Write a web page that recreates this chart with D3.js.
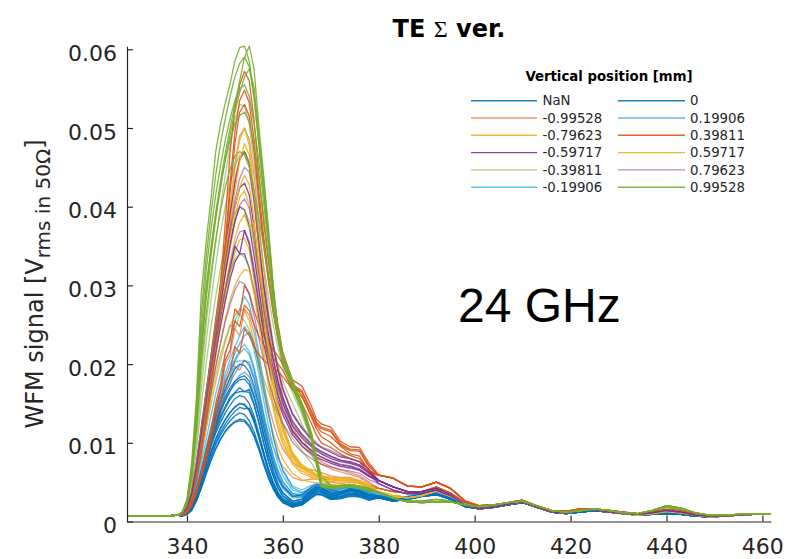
<!DOCTYPE html>
<html>
<head>
<meta charset="utf-8">
<script src="https://cdn.jsdelivr.net/npm/d3@7"></script>
<style>
  body { margin: 0; background: #fff; }
  svg { display: block; }
</style>
</head>
<body>
<svg id="chart" width="791" height="559"></svg>
<script>
// ---- data (signal in units of 1e-4 V) ----
const positions = ["NaN", "-0.99528", "-0.79623", "-0.59717", "-0.39811", "-0.19906",
                   "0", "0.19906", "0.39811", "0.59717", "0.79623", "0.99528"];

const xTicks = [340, 360, 380, 400, 420, 440, 460];
const yTicks = [0, 0.01, 0.02, 0.03, 0.04, 0.05, 0.06];

// flat pre-trigger baseline shared by every trace
const leadX = [327.5, 336, 338];
const leadValues = [7, 7, 8];

// main pulse region
const headX = [339, 340, 341, 342, 343, 344, 345, 346, 347, 348, 349, 350, 351, 352, 353, 354,
               355, 356, 357, 358, 359, 360, 362, 364, 366, 367, 368, 370, 372, 374, 376, 378];

// ringing region after the pulse
const tailX = [380, 383, 386, 389, 392, 395, 398, 401, 404, 407, 410, 413, 416, 419, 422, 425,
               428, 431, 434, 437, 440, 443, 446, 449, 452, 455, 458, 461.8];

const headNaN = [
  [7,10,17,32,50,70,89,105,119,130,139,146,150,149,142,128,108,86,65,48,36,28,21,23,34,38,38,31,32,36,35,30],
  [8,11,19,36,56,78,99,118,134,146,158,164,170,165,168,150,126,100,77,58,43,33,24,26,38,42,41,34,35,40,38,32],
  [7,9,14,26,42,60,77,92,104,114,121,126,128,127,120,108,91,72,55,41,31,24,19,21,30,34,34,28,29,32,31,27],
  [7,10,16,30,48,67,85,100,113,124,133,140,145,143,144,130,110,88,67,50,37,29,22,24,35,39,38,31,32,36,34,29],
  [8,11,21,39,60,83,105,125,143,158,170,178,183,185,178,160,136,109,84,63,47,36,26,28,40,44,43,36,36,41,39,33]
];
const headM0995 = [
  [9,14,27,52,85,125,170,218,270,330,395,455,490,500,485,440,380,320,268,225,190,160,120,100,88,82,76,70,66,62,58,50],
  [8,12,21,38,60,84,110,140,165,200,212,245,236,270,262,240,208,175,148,125,106,92,75,68,66,64,62,58,56,56,52,46],
  [8,11,19,35,54,75,97,120,140,165,175,198,192,205,200,184,160,135,112,94,80,70,56,52,54,54,53,50,48,50,48,42],
  [9,14,26,50,82,120,163,210,260,318,380,435,462,470,456,414,358,300,250,210,178,150,113,95,84,78,73,67,63,60,56,48]
];
const headM0796 = [
  [10,18,38,74,118,164,210,258,305,352,400,448,485,500,478,420,350,285,230,185,150,122,88,72,64,60,58,56,55,54,52,46],
  [9,16,33,64,102,140,178,214,250,284,315,342,358,360,345,308,262,218,180,148,122,102,76,64,58,56,55,53,52,52,50,44],
  [9,14,28,54,85,117,148,177,204,228,248,262,270,268,255,228,196,164,136,112,93,79,61,53,50,49,48,47,46,47,45,40],
  [10,17,35,68,110,152,194,236,278,318,354,388,412,420,402,356,298,244,198,160,130,107,80,67,60,57,55,53,52,52,50,44]
];
const headM0597 = [
  [10,18,38,75,120,165,210,255,300,345,390,430,460,470,455,410,350,300,258,222,192,168,136,118,104,98,94,88,82,80,76,66],
  [10,17,36,70,112,155,197,238,278,316,352,382,400,396,375,338,295,255,222,194,170,150,122,106,95,90,86,80,76,74,70,61],
  [9,16,33,64,102,140,178,214,248,280,308,330,340,340,322,292,258,226,198,174,153,136,110,96,86,82,79,74,70,68,65,57],
  [10,18,37,72,116,160,204,246,288,328,366,400,424,430,415,375,322,276,238,206,178,157,128,111,98,93,89,83,78,76,72,63],
  [10,17,34,66,106,146,186,224,260,294,322,350,340,370,352,316,276,240,208,182,160,141,115,100,90,85,82,76,72,70,66,58]
];
const headM0398 = [
  [11,24,58,115,185,250,305,355,400,440,478,510,530,528,505,455,400,350,305,265,232,205,170,140,105,82,60,46,44,45,43,40],
  [10,18,40,78,122,165,205,240,270,296,318,334,340,336,322,296,265,236,210,188,168,152,128,108,86,72,56,45,43,44,42,39],
  [9,15,31,58,92,126,158,186,212,232,250,244,262,255,244,224,202,182,164,149,136,125,106,90,74,64,52,44,42,43,41,38],
  [11,22,52,104,168,228,280,326,366,400,430,452,466,470,455,416,370,326,286,250,220,196,164,136,102,80,58,46,44,45,43,40],
  [10,20,46,92,148,200,246,286,322,352,376,392,400,396,382,352,318,284,252,224,198,178,150,124,96,76,57,45,43,44,42,39]
];
const headM0199 = [
  [8,12,24,44,68,94,120,145,168,188,206,222,236,248,240,218,188,154,122,95,74,58,40,36,42,45,44,40,40,44,42,36],
  [8,13,26,48,75,104,134,162,188,212,234,254,270,286,276,250,214,176,140,108,84,66,45,40,46,48,47,42,42,46,44,38],
  [8,11,21,39,61,85,108,130,150,168,184,203,204,204,203,184,158,128,100,77,59,46,33,32,40,43,42,37,37,41,39,34],
  [8,12,22,42,65,90,115,138,158,176,192,206,218,225,216,196,168,137,108,84,65,51,36,34,41,44,43,39,39,43,41,35]
];
const headZero = [
  [8,12,22,40,62,86,110,132,152,168,182,194,200,198,190,172,148,120,94,72,55,44,32,34,44,47,46,40,38,40,38,34],
  [7,10,18,34,54,75,95,112,126,138,148,156,160,158,150,134,112,88,66,48,34,26,20,24,36,40,40,32,34,38,36,30],
  [7,9,15,28,45,64,82,98,110,120,128,134,138,136,128,114,96,76,58,43,32,25,19,22,32,36,35,29,30,34,33,28],
  [8,11,20,37,58,80,102,122,140,154,166,175,180,181,174,158,136,110,85,64,48,37,26,28,40,44,43,36,36,42,40,34],
  [7,10,17,31,49,69,88,104,118,129,138,145,150,148,141,126,106,84,63,46,34,27,21,23,34,38,37,30,31,35,34,29],
  [8,11,19,35,55,77,97,115,131,144,155,163,165,165,164,148,125,99,76,57,42,32,23,25,37,41,40,33,34,39,37,31],
  [7,9,15,27,43,61,78,93,105,115,122,127,130,129,122,110,93,74,56,42,31,24,18,21,31,35,34,28,29,33,32,27]
];
const headP0199 = [
  [8,12,22,41,64,89,113,136,156,174,190,204,214,220,212,192,165,135,106,82,63,50,35,33,41,44,43,38,38,42,40,35],
  [8,11,20,37,58,80,102,121,138,153,166,178,186,190,184,167,143,116,90,69,53,42,30,30,39,42,41,35,36,40,38,33],
  [8,12,23,42,66,92,117,141,163,182,199,214,226,236,240,226,200,168,136,107,83,64,43,37,43,46,45,41,41,45,43,37],
  [8,11,21,39,61,84,107,128,146,162,176,188,198,205,198,180,154,126,98,76,58,46,32,31,40,43,42,37,37,41,39,34]
];
const headP0398 = [
  [9,15,30,58,95,140,190,245,300,380,470,525,555,572,560,510,440,380,330,285,250,215,180,172,146,130,124,120,102,95,94,74],
  [9,14,28,55,90,132,180,232,290,355,430,495,535,548,532,485,420,362,315,272,238,205,174,166,140,126,120,116,99,92,91,71],
  [8,12,22,40,62,88,115,150,175,215,230,270,262,300,290,268,250,236,228,218,210,200,175,160,132,118,108,100,90,84,80,64],
  [8,11,20,36,56,78,102,128,150,178,190,222,214,245,236,222,212,205,200,196,190,184,168,158,134,122,114,108,96,86,83,65],
  [9,14,27,53,87,128,175,226,282,345,418,480,520,530,515,470,408,352,306,265,232,200,172,164,138,124,118,114,97,90,89,69],
  [8,12,21,38,59,84,110,142,166,205,218,255,248,275,268,250,235,224,216,208,200,192,168,150,124,110,100,94,86,80,76,60]
];
const headP0597 = [
  [10,17,36,70,112,155,198,242,284,325,362,398,425,440,428,384,325,268,218,176,143,117,84,69,62,59,57,55,54,54,51,45],
  [9,15,31,60,95,130,164,197,228,257,282,300,312,320,318,290,250,210,174,143,118,98,73,61,56,54,53,51,50,50,48,42],
  [10,17,34,66,106,146,186,224,262,298,330,360,380,390,372,380,320,262,212,172,140,115,83,68,61,58,56,54,53,53,50,44],
  [10,18,37,72,115,160,205,250,294,338,380,420,458,480,466,412,345,280,226,182,148,120,86,70,63,60,58,56,55,55,52,46]
];
const headP0796 = [
  [10,18,37,72,116,160,204,247,290,332,372,408,436,450,444,405,352,302,260,224,194,170,138,120,106,100,95,90,84,80,76,66],
  [10,17,35,68,108,148,188,226,262,296,326,352,368,370,356,322,282,244,212,186,163,144,116,101,91,86,82,77,73,71,67,58],
  [9,15,31,60,95,130,164,196,226,254,276,294,305,302,288,262,232,204,180,158,140,124,101,88,80,76,73,69,66,64,61,53],
  [10,17,36,70,112,154,196,236,276,314,348,380,402,410,398,362,314,270,232,202,175,154,125,109,97,92,88,82,78,75,71,62]
];
const headP0995 = [
  [12,28,75,160,290,355,410,470,505,532,556,585,602,604,585,540,480,420,360,295,240,208,176,146,108,78,46,43,45,46,44,41],
  [11,24,62,130,220,290,345,392,432,468,500,530,560,590,604,575,502,440,372,300,244,212,180,150,112,82,48,44,46,47,45,42],
  [11,25,66,140,245,318,370,415,452,485,512,535,550,555,540,505,458,405,350,290,236,205,172,143,106,76,45,42,44,45,43,40],
  [11,22,56,118,200,262,315,358,395,425,448,464,470,466,450,420,385,350,312,270,230,202,170,141,104,74,44,42,43,44,42,39],
  [12,27,70,150,265,335,390,440,480,512,540,565,582,590,578,538,478,418,358,294,240,208,176,146,108,78,46,43,45,46,44,41],
  [11,23,60,125,212,282,336,384,424,460,492,520,545,565,575,552,492,432,368,298,243,211,179,149,111,80,47,44,46,47,45,42],
  [11,24,62,132,230,298,348,390,428,460,485,505,516,520,508,478,436,388,336,282,233,204,171,142,105,75,45,42,44,45,43,40]
];

const tailNaN   = [30,26,28,32,34,28,19,16,18,21,24,18,12,10,12,14,12,10,8,9,10,9,7,6,7,8,9,9];
const tailM0995 = [42,38,36,38,44,36,24,18,19,23,26,19,13,12,15,16,13,11,9,11,14,12,8,7,7,8,9,9];
const tailM0796 = [38,33,31,34,40,33,21,16,18,22,25,18,12,11,14,15,12,10,8,10,13,11,8,6,7,8,9,9];
const tailM0597 = [52,44,38,38,42,34,22,17,18,22,25,18,12,11,14,15,12,10,9,11,14,12,8,7,7,8,9,9];
const tailM0398 = [36,30,26,26,28,26,20,18,20,23,25,19,13,12,15,16,13,11,10,13,18,15,10,8,8,9,10,9];
const tailM0199 = [34,30,32,36,40,33,22,18,19,22,25,19,13,11,13,15,13,10,9,11,13,11,8,7,7,8,9,9];
const tailZero  = [31,27,29,33,35,29,19,16,18,21,24,18,12,10,12,14,12,10,8,9,10,9,7,6,7,8,9,9];
const tailP0199 = [33,29,31,35,38,31,21,17,19,22,25,18,12,10,12,14,12,10,8,10,11,10,8,6,7,8,9,9];
const tailP0398 = [59,55,45,44,50,42,26,20,21,24,27,20,14,13,16,16,14,12,10,12,15,13,9,7,7,8,9,9];
const tailP0597 = [37,32,30,33,39,32,21,16,18,22,25,18,12,11,14,15,12,10,8,10,13,11,8,6,7,8,9,9];
const tailP0796 = [48,40,35,36,40,33,21,16,18,22,25,18,12,11,14,15,12,10,9,11,14,12,8,7,7,8,9,9];
const tailP0995 = [37,30,25,24,25,25,21,19,21,24,26,20,14,12,14,16,14,11,10,14,20,17,11,8,8,9,10,9];

const VALUE_UNIT = 1e-4;

// ---- styling ----
const lineColors  = ["#0072BD", "#D95319", "#EDB120", "#7E2F8E", "#77AC30", "#4DBEEE",
                     "#0072BD", "#0072BD", "#D95319", "#EDB120", "#7E2F8E", "#77AC30"];
const lineOpacity = [0.9, 0.6, 0.9, 0.9, 0.6, 0.9, 0.9, 0.55, 0.9, 0.9, 0.55, 0.9];

const headGroups = [headNaN, headM0995, headM0796, headM0597, headM0398, headM0199,
                    headZero, headP0199, headP0398, headP0597, headP0796, headP0995];
const tailGroups = [tailNaN, tailM0995, tailM0796, tailM0597, tailM0398, tailM0199,
                    tailZero, tailP0199, tailP0398, tailP0597, tailP0796, tailP0995];

const allX = leadX.concat(headX, tailX);
const traces = [];
headGroups.forEach((group, gi) => {
  group.forEach(head => {
    const vals = leadValues.concat(head, tailGroups[gi]);
    traces.push({ group: gi, points: allX.map((x, k) => [x, vals[k] * VALUE_UNIT]) });
  });
});

// ---- layout ----
const svg = d3.select("#chart");
const axisColor = "#262626";

const x = d3.scaleLinear().domain([327.5, 461.8]).range([127, 771]);
const y = d3.scaleLinear().domain([0, 0.0604]).range([521.5, 521.5 - 0.0604 * 7870]);

const line = d3.line().x(d => x(d[0])).y(d => y(d[1]));

svg.append("g")
  .attr("fill", "none")
  .attr("stroke-width", 1.3)
  .attr("stroke-linejoin", "round")
  .selectAll("path")
  .data(traces)
  .join("path")
  .attr("d", d => line(d.points))
  .attr("stroke", d => lineColors[d.group])
  .attr("stroke-opacity", d => lineOpacity[d.group]);

// axes
const yAxis = d3.axisLeft(y)
  .tickValues(yTicks)
  .tickFormat(d => d === 0 ? "0" : d3.format(".2f")(d))
  .tickSizeInner(-6).tickSizeOuter(0).tickPadding(10);

const xAxis = d3.axisBottom(x)
  .tickValues(xTicks)
  .tickFormat(d3.format("d"))
  .tickSizeInner(-6).tickSizeOuter(0).tickPadding(16);

const gy = svg.append("g").attr("transform", "translate(127,0)").call(yAxis);
const gx = svg.append("g").attr("transform", "translate(0,521.5)").call(xAxis);

[gy, gx].forEach(g => {
  g.select(".domain").attr("stroke", axisColor).attr("stroke-width", 1.2);
  g.selectAll(".tick line").attr("stroke", axisColor).attr("stroke-width", 1.2);
  g.selectAll(".tick text")
    .attr("fill", axisColor)
    .style("font-family", "DejaVu Sans")
    .style("font-size", "22px");
});
gy.selectAll(".tick text").attr("dy", "0.5em");
gx.selectAll(".tick text").attr("y", 32).attr("dy", 0);

// y-axis label with subscript
const yLabel = svg.append("text")
  .attr("transform", "translate(43,284) rotate(-90)")
  .attr("text-anchor", "middle")
  .attr("fill", axisColor)
  .style("font-family", "DejaVu Sans")
  .style("font-size", "24px");
yLabel.append("tspan").text("WFM signal [V");
yLabel.append("tspan").attr("dy", 7).style("font-size", "20px").text("rms in 50Ω");
yLabel.append("tspan").attr("dy", -7).text("]");

// title
const title = svg.append("text")
  .attr("x", 449).attr("y", 37)
  .attr("text-anchor", "middle")
  .attr("fill", "#000")
  .style("font-family", "DejaVu Sans")
  .style("font-weight", "bold")
  .style("font-size", "24px");
title.append("tspan").text("TE ");
title.append("tspan").style("font-family", "Liberation Serif").style("font-weight", "normal").text("Σ");
title.append("tspan").text(" ver.");

// frequency annotation
svg.append("text")
  .attr("x", 458).attr("y", 322)
  .attr("fill", "#000")
  .style("font-family", "Liberation Sans")
  .style("font-size", "48px")
  .text("24 GHz");

// legend
const legend = svg.append("g");
legend.append("text")
  .attr("x", 609).attr("y", 81)
  .attr("text-anchor", "middle")
  .attr("fill", "#000")
  .style("font-family", "DejaVu Sans")
  .style("font-weight", "bold")
  .style("font-size", "13.3px")
  .text("Vertical position [mm]");

const rowY = i => 100.7 + (i % 6) * 17.3;
const entries = legend.selectAll("g.entry")
  .data(positions)
  .join("g")
  .attr("class", "entry");
entries.append("line")
  .attr("x1", (d, i) => i < 6 ? 471 : 618)
  .attr("x2", (d, i) => i < 6 ? 537 : 685)
  .attr("y1", (d, i) => rowY(i))
  .attr("y2", (d, i) => rowY(i))
  .attr("stroke", (d, i) => lineColors[i])
  .attr("stroke-opacity", (d, i) => lineOpacity[i])
  .attr("stroke-width", 1.4);
entries.append("text")
  .attr("x", (d, i) => i < 6 ? 542.5 : 690)
  .attr("y", (d, i) => rowY(i) + 4.6)
  .attr("fill", axisColor)
  .style("font-family", "DejaVu Sans")
  .style("font-size", "13.3px")
  .text(d => d);
</script>
</body>
</html>
